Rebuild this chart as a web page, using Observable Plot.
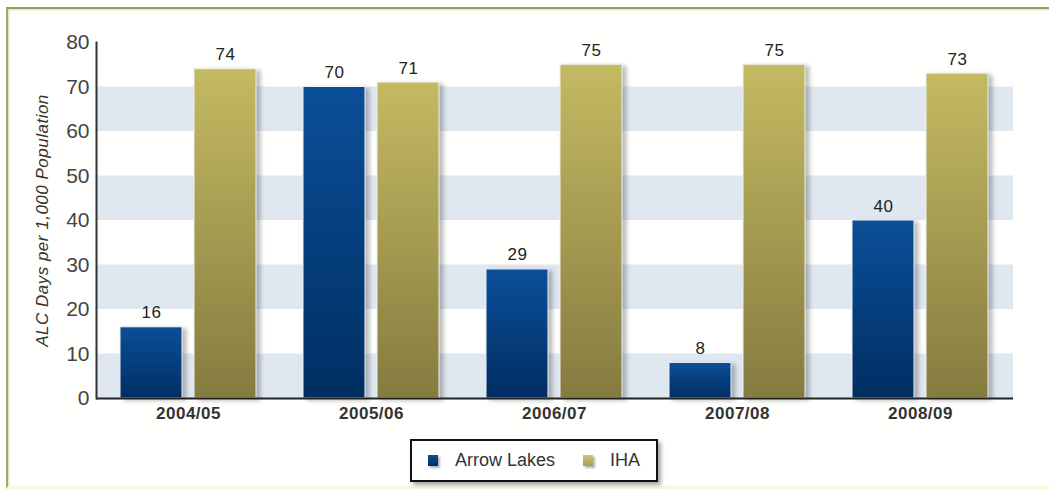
<!DOCTYPE html>
<html>
<head>
<meta charset="utf-8">
<script src="https://cdn.jsdelivr.net/npm/d3@7"></script>
<script src="https://cdn.jsdelivr.net/npm/@observablehq/plot@0.6"></script>
<style>
  html, body { margin: 0; padding: 0; background: #fff; }
  #wrap { position: relative; width: 1049px; height: 489px; overflow: hidden; font-family: "Liberation Sans", Arial, sans-serif; }
  #frame { position: absolute; left: 6px; top: 7px; right: -4px; bottom: 0; border-top: 2px solid #a19b62; border-left: 2px solid #aaa472; border-bottom: 3px solid #fbf8df; background: #fffffd; box-shadow: inset 1px 1px 2px rgba(150,140,80,0.35); }
  #chart { position: absolute; left: 0; top: 0; }
  #legend { position: absolute; left: 410px; top: 439px; width: 244px; height: 39px; border: 2px solid #111; background: #fff; box-shadow: 3px 3px 4px rgba(0,0,0,0.35); display: flex; align-items: center; justify-content: center; font-size: 18px; color: #333; }
  .sw { display: inline-block; width: 10px; height: 11px; box-shadow: 2px 2px 2px rgba(0,0,0,0.3); margin-right: 17px; }
  .item { display: flex; align-items: center; }
</style>
</head>
<body>
<div id="wrap">
  <div id="frame"></div>
  <div id="chart"></div>
  <div id="legend"></div>
</div>
<script>
const years = ["2004/05", "2005/06", "2006/07", "2007/08", "2008/09"];
const seriesNames = ["Arrow Lakes", "IHA"];
const arrowLakes = [16, 70, 29, 8, 40];
const iha = [74, 71, 75, 75, 73];
const yTicks = [0, 10, 20, 30, 40, 50, 60, 70, 80];
const bandStarts = [0, 20, 40, 60];
const yLabel = "ALC Days per 1,000 Population";

const arrowData = years.map((y, i) => ({year: y, series: seriesNames[0], value: arrowLakes[i]}));
const ihaData = years.map((y, i) => ({year: y, series: seriesNames[1], value: iha[i]}));

const barOpts = {stroke: "#eef1f4", strokeWidth: 1};

const plot = Plot.plot({
  width: 1049,
  height: 420,
  marginLeft: 96,
  marginRight: 36,
  marginTop: 42,
  marginBottom: 22,
  style: {background: "transparent", fontFamily: "'Liberation Sans', Arial, sans-serif", overflow: "visible"},
  x: {domain: years, paddingInner: 0.256, paddingOuter: 0.125, label: null},
  y: {domain: [0, 80], label: null},
  marks: [
    Plot.rectY(bandStarts, {y1: d => d, y2: d => d + 10, fill: "#dfe7f0"}),
    Plot.barY(arrowData, {x: "year", y: "value", fill: "url(#gBlue)", insetRight: 74, ...barOpts}),
    Plot.barY(ihaData, {x: "year", y: "value", fill: "url(#gOlive)", insetLeft: 74, ...barOpts}),
    Plot.text(arrowData, {x: "year", y: "value", text: d => String(d.value), dx: -37, dy: -9, lineAnchor: "bottom", fontSize: 17, fill: "#222"}),
    Plot.text(ihaData, {x: "year", y: "value", text: d => String(d.value), dx: 37, dy: -9, lineAnchor: "bottom", fontSize: 17, fill: "#222"}),
    Plot.ruleY([0], {stroke: "#222", strokeWidth: 2}),
    Plot.frame({anchor: "left", stroke: "#333", strokeWidth: 2}),
    Plot.axisY({ticks: yTicks, tickSize: 0, tickPadding: 7, fontSize: 21, fill: "#444", label: null}),
    Plot.axisX({tickSize: 0, tickPadding: 8, fontSize: 17, fontWeight: "bold", fill: "#333", label: null}),
    Plot.text([yLabel], {frameAnchor: "left", textAnchor: "middle", lineAnchor: "middle", rotate: -90, dx: -54, fontSize: 17, fontStyle: "italic", fill: "#333"})
  ]
});

const svg = d3.select(plot);
const defs = svg.insert("defs", ":first-child");
const gb = defs.append("linearGradient").attr("id", "gBlue").attr("x1", 0).attr("y1", 0).attr("x2", 0).attr("y2", 1);
gb.append("stop").attr("offset", "0%").attr("stop-color", "#0b4f99");
gb.append("stop").attr("offset", "100%").attr("stop-color", "#002e62");
const go = defs.append("linearGradient").attr("id", "gOlive").attr("x1", 0).attr("y1", 0).attr("x2", 0).attr("y2", 1);
go.append("stop").attr("offset", "0%").attr("stop-color", "#c4ba62");
go.append("stop").attr("offset", "100%").attr("stop-color", "#857b40");
svg.selectAll("g[aria-label='bar']").style("filter", "drop-shadow(4px 2px 2px rgba(60,60,60,0.35))");
svg.selectAll("g[aria-label='text'] text").style("letter-spacing", "0.5px");
svg.selectAll("g[aria-label='x-axis tick label'] text").style("letter-spacing", "0.5px");

document.getElementById("chart").appendChild(plot);

const legend = d3.select("#legend");
const swatchFills = ["linear-gradient(#0b4f99, #002e62)", "linear-gradient(#d0c67a, #a89d55)"];
seriesNames.forEach((name, i) => {
  const item = legend.append("div").attr("class", "item").style("margin-left", i ? "28px" : "0");
  item.append("span").attr("class", "sw").style("background", swatchFills[i]);
  item.append("span").text(name);
});
</script>
</body>
</html>
